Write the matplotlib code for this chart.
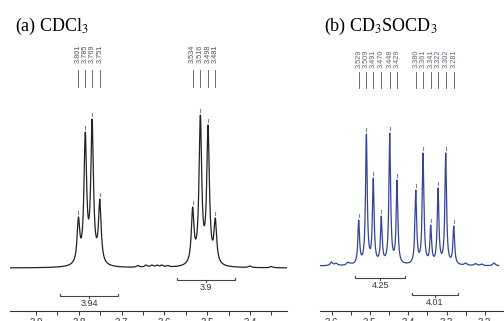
import numpy as np
import matplotlib.pyplot as plt

plt.rcParams["font.family"] = "sans-serif"
plt.rcParams["font.sans-serif"] = ["Liberation Sans", "DejaVu Sans"]
plt.rcParams["mathtext.fontset"] = "stix"

W, H = 504, 321

# ---------------- data: (a) CDCl3 ----------------
a_peaks = [3.801, 3.785, 3.769, 3.751, 3.534, 3.516, 3.498, 3.481]
a_heights = [51, 136, 149, 69, 61, 153, 143, 50]
a_ripple_ppm = [3.662, 3.643, 3.629, 3.617, 3.606, 3.592, 3.45, 3.40, 3.35]
a_ripple_h = [2.5, 3, 3, 3, 3, 2.5, 2, 2, 1.5]
a_integrals = [(3.844, 3.708, "3.94"), (3.571, 3.435, "3.9")]
a_xlim = (3.961, 3.3135)
a_ticks = [3.9, 3.8, 3.7, 3.6, 3.5, 3.4]

# ---------------- data: (b) CD3SOCD3 ----------------
b_peaks = [3.529, 3.509, 3.491, 3.470, 3.448, 3.429,
           3.380, 3.361, 3.341, 3.322, 3.302, 3.281]
b_heights = [46, 132, 88, 50, 133, 86, 76, 113, 41, 78, 113, 40]
b_ripple_ppm = [3.600, 3.588, 3.557, 3.549, 3.250, 3.224, 3.208, 3.176]
b_ripple_h = [4, 3, 4, 3, 3, 2.5, 2, 3]
b_integrals = [(3.538, 3.408, "4.25"), (3.390, 3.271, "4.01")]
b_xlim = (3.63, 3.164)
b_ticks = [3.6, 3.5, 3.4, 3.3, 3.2]


def lor(x, x0, w):
    return w ** 2 / ((x - x0) ** 2 + w ** 2)


def spectrum(ax, peaks, heights, rip_x, rip_h, w, rw, xlim, color):
    pos = np.array(peaks + rip_x)
    hts = np.array(heights + rip_h, dtype=float)
    ws = np.array([w] * len(peaks) + [rw] * len(rip_x))
    A = np.array([[lor(pi, pj, wj) for pj, wj in zip(pos, ws)] for pi in pos])
    amp = np.linalg.solve(A, hts)
    x = np.linspace(xlim[1], xlim[0], 4000)
    y = sum(a * lor(x, p, ww) for a, p, ww in zip(amp, pos, ws))
    ax.plot(x, y, color=color, lw=0.9)


def decorate(ax, peaks, heights, integrals, line_lo, line_hi, lab_y, int_y,
             lab_color):
    for p, h in zip(peaks, heights):
        ax.plot([p, p], [h + 3, h + 6], color="#888888", lw=0.8)
        ax.plot([p, p], [line_lo, line_hi], color="#555555", lw=0.6)
        ax.text(p, lab_y, f"{p:.3f}", rotation=90, ha="center",
                va="bottom", fontsize=5.3, color=lab_color)
    for (x1, x2, lab), yy in zip(integrals, int_y):
        ax.plot([x1, x1, x2, x2], [yy + 2.5, yy, yy, yy + 2.5],
                color="#444444", lw=0.8)
        xm = (x1 + x2) / 2
        ax.plot([xm, xm], [yy, yy - 2], color="#444444", lw=0.8)
        ax.text(xm, yy - 3, lab, ha="center", va="top", fontsize=6.5,
                color="#333333")


def style(ax, xlim, ylim, ticks):
    ax.set_xlim(xlim)
    ax.set_ylim(ylim)
    for s in ["left", "right", "top"]:
        ax.spines[s].set_visible(False)
    ax.spines["bottom"].set_color("#333333")
    ax.spines["bottom"].set_linewidth(0.8)
    ax.set_yticks([])
    ax.set_xticks(ticks)
    ax.set_xticks([t - 0.05 for t in ticks] + [ticks[-1] + 0.05], minor=True)
    ax.set_xticklabels([f"{t:.1f}" for t in ticks])
    ax.tick_params(axis="x", which="both", length=3, width=0.7,
                   color="#333333", labelsize=7, labelcolor="#333333", pad=2)
    ax.patch.set_visible(False)


fig = plt.figure(figsize=(W / 100, H / 100), dpi=100)

ax1 = fig.add_axes([10 / W, 10 / H, 277 / W, 311 / H])
spectrum(ax1, a_peaks, a_heights, a_ripple_ppm, a_ripple_h, 0.0037, 0.004,
         a_xlim, "#222222")
decorate(ax1, a_peaks, a_heights, a_integrals, 181, 198, 205, [-28, -12],
         "#555555")
style(ax1, a_xlim, (-43, 268), a_ticks)

ax2 = fig.add_axes([320 / W, 10 / H, 184 / W, 311 / H])
spectrum(ax2, b_peaks, b_heights, b_ripple_ppm, b_ripple_h, 0.0026, 0.004,
         b_xlim, "#34449a")
decorate(ax2, b_peaks, b_heights, b_integrals, 178, 194, 198, [-12, -29],
         "#666677")
style(ax2, b_xlim, (-45, 266), b_ticks)

fig.text(15 / W, 1 - 31 / H, "(a) CDCl$_3$", fontsize=13,
         family="Liberation Serif", va="baseline")
fig.text(324 / W, 1 - 31 / H, "(b) CD$_3$SOCD$_3$", fontsize=13,
         family="Liberation Serif", va="baseline")

fig.savefig("out.png", dpi=100)
